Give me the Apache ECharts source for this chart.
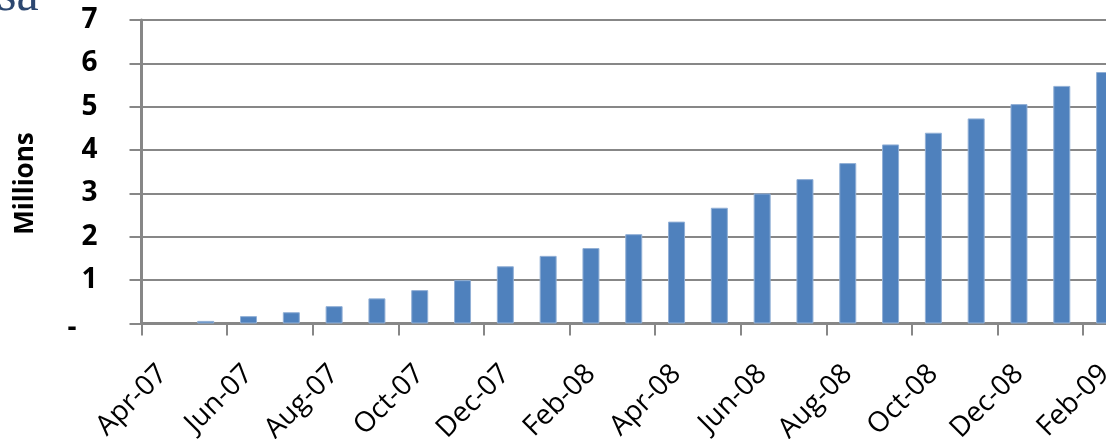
<!DOCTYPE html>
<html>
<head>
<meta charset="utf-8">
<script src="https://cdn.jsdelivr.net/npm/echarts@6/dist/echarts.min.js"></script>
<style>
  html, body { margin: 0; padding: 0; background: #fff; }
  #chart { width: 1106px; height: 439px; }
</style>
</head>
<body>
<div id="chart"></div>
<script>
// Monthly categories, Apr-07 .. Feb-09
const months = ['Apr-07','May-07','Jun-07','Jul-07','Aug-07','Sep-07','Oct-07','Nov-07','Dec-07',
  'Jan-08','Feb-08','Mar-08','Apr-08','May-08','Jun-08','Jul-08','Aug-08','Sep-08','Oct-08',
  'Nov-08','Dec-08','Jan-09','Feb-09'];
// Values in millions
const values = [0, 0.06, 0.17, 0.26, 0.40, 0.58, 0.77, 1.00, 1.32,
  1.56, 1.74, 2.06, 2.35, 2.67, 3.00, 3.33, 3.70, 4.13, 4.40,
  4.73, 5.06, 5.48, 5.80];
const yTicks = [0, 1, 2, 3, 4, 5, 6, 7];
const axisTitle = 'Millions';
const headingTail = 'sa';

const chart = echarts.init(document.getElementById('chart'));
const gray = '#878787';

chart.setOption({
  animation: false,
  // plot area runs past the right edge of the canvas
  grid: { left: 141.5, top: 20, height: 303.5, width: 984.5, outerBoundsMode: 'none', containLabel: false },
  graphic: [
    {
      type: 'text', left: -3, top: -28,
      style: { text: headingTail, font: '50px "Liberation Serif"', fill: '#2C4770' }
    },
    {
      type: 'text', x: 26, y: 183.5, rotation: Math.PI / 2,
      style: { text: axisTitle, font: 'bold 26px "Open Sans"', fill: '#000',
        align: 'center', verticalAlign: 'middle' }
    }
  ],
  xAxis: {
    type: 'category',
    data: months,
    boundaryGap: true,
    axisLine: { lineStyle: { color: gray, width: 3 } },
    axisTick: { show: true, interval: 1, length: 12, lineStyle: { color: gray, width: 2 } },
    axisLabel: {
      interval: 1, rotate: 45, margin: 46,
      fontFamily: 'Open Sans', fontSize: 28, color: '#000'
    },
    splitLine: { show: false }
  },
  yAxis: {
    type: 'value',
    min: yTicks[0], max: yTicks[yTicks.length - 1], interval: 1,
    axisLine: { show: true, lineStyle: { color: gray, width: 3 } },
    axisTick: { show: true, length: 12, lineStyle: { color: gray, width: 2 } },
    axisLabel: {
      margin: 44,
      fontFamily: 'Open Sans', fontWeight: 'bold', fontSize: 28, color: '#000',
      formatter: v => v === 0 ? '{dash|-}' : String(v),
      rich: { dash: { fontFamily: 'Open Sans', fontWeight: 'bold', fontSize: 28, color: '#000', padding: [10, 21, 0, 0] } }
    },
    splitLine: { show: true, lineStyle: { color: gray, width: 2 } }
  },
  series: [{
    type: 'bar',
    data: values.map(v => v === 0 ? { value: v, itemStyle: { borderWidth: 0 } } : v),
    barWidth: 17,
    itemStyle: { color: '#4F81BD', borderColor: '#92B0D6', borderWidth: 1 }
  }]
});
</script>
</body>
</html>
